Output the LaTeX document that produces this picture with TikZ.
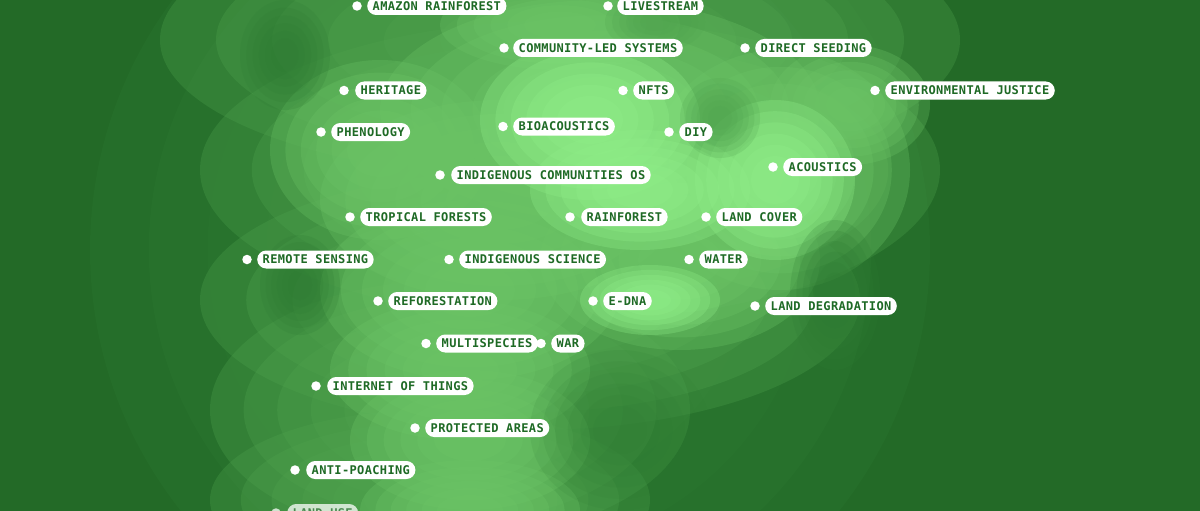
\documentclass[tikz,border=0pt]{standalone}
\usepackage{fontspec}
\newfontfamily\labelfont[LetterSpace=3]{DejaVu Sans Mono}
\definecolor{bgdark}{HTML}{236A27}
\definecolor{bgband}{HTML}{2E7B33}
\definecolor{bgmid}{HTML}{4FA34E}
\definecolor{bglight}{HTML}{6CC466}
\definecolor{bgbright}{HTML}{8FEE88}
\definecolor{labelgreen}{HTML}{1E6A25}
% soft blob: stacked translucent ellipses
\newcommand\myblob[6][0.3]{%
  \foreach \f in {1,0.86,0.72,0.58,0.44,0.3}{%
    \fill[#2, opacity=#1] (#3,#4) ellipse [x radius={#5*\f}, y radius={#6*\f}];}}
\tikzset{
  pill/.style={anchor=west, fill=white, rounded corners=9pt, inner xsep=5.5pt,
    inner ysep=4.6pt, text height=8.8pt, text depth=0pt, text=labelgreen,
    font=\labelfont\bfseries\fontsize{12}{12}\selectfont},
  dot/.style={circle, fill=white, minimum size=9.5pt, inner sep=0pt},
}
\begin{document}
\begin{tikzpicture}[x=1pt,y=-1pt]
\useasboundingbox (0,0) rectangle (1200,511);
\fill[bgdark] (0,0) rectangle (1200,511);
\begin{scope}
\clip (0,0) rectangle (1200,511);
% broad faint band
\myblob[0.25]{bgband}{510}{250}{420}{420}
% medium envelope
\myblob{bgmid}{560}{40}{400}{140}
\myblob{bgmid}{570}{170}{370}{150}
\myblob{bgmid}{530}{300}{330}{130}
\myblob{bgmid}{450}{410}{240}{130}
\myblob{bgmid}{430}{500}{220}{90}
% light areas
\myblob{bglight}{600}{110}{220}{110}
\myblob{bglight}{780}{170}{130}{120}
\myblob{bglight}{500}{200}{180}{100}
\myblob{bglight}{680}{260}{140}{90}
\myblob{bglight}{470}{290}{150}{90}
\myblob{bglight}{460}{370}{130}{70}
\myblob{bglight}{470}{440}{120}{70}
\myblob{bglight}{470}{510}{110}{50}
\myblob{bglight}{850}{105}{80}{60}
\myblob{bglight}{380}{150}{110}{90}
\myblob{bglight}{560}{25}{120}{45}
% bright spots
\myblob{bgbright}{590}{120}{110}{80}
\myblob{bgbright}{775}{180}{80}{80}
\myblob{bgbright}{640}{190}{110}{60}
\myblob{bgbright}{650}{300}{70}{35}
% darker pockets
\myblob[0.2]{bgband}{285}{55}{45}{55}
\myblob[0.2]{bgmid}{720}{118}{40}{40}
\myblob[0.2]{bgmid}{655}{22}{50}{30}
\myblob[0.2]{bgband}{835}{295}{45}{75}
\myblob[0.2]{bgband}{300}{285}{40}{50}
\myblob[0.12]{bgband}{620}{430}{90}{80}
\end{scope}

% labels
\node[dot] (d1) at (357,6) {};   \node[pill] (l1) at (367,6) {AMAZON RAINFOREST};
\node[dot] (d2) at (608,6) {};   \node[pill] (l2) at (617,6) {LIVESTREAM};
\node[dot] (d3) at (504,48) {};  \node[pill] (l3) at (513,48) {COMMUNITY-LED SYSTEMS};
\node[dot] (d4) at (745,48) {};  \node[pill] (l4) at (755,48) {DIRECT SEEDING};
\node[dot] (d5) at (344,90.5) {}; \node[pill] (l5) at (355,90.5) {HERITAGE};
\node[dot] (d6) at (623,90.5) {}; \node[pill] (l6) at (633,90.5) {NFTS};
\node[dot] (d7) at (875,90.5) {}; \node[pill] (l7) at (885,90.5) {ENVIRONMENTAL JUSTICE};
\node[dot] (d8) at (321,132) {};  \node[pill] (l8) at (331,132) {PHENOLOGY};
\node[dot] (d9) at (503,126.5) {}; \node[pill] (l9) at (513,126.5) {BIOACOUSTICS};
\node[dot] (d10) at (669,132) {}; \node[pill] (l10) at (679,132) {DIY};
\node[dot] (d11) at (773,167) {}; \node[pill] (l11) at (783,167) {ACOUSTICS};
\node[dot] (d12) at (440,175) {}; \node[pill] (l12) at (451,175) {INDIGENOUS COMMUNITIES OS};
\node[dot] (d13) at (350,217) {}; \node[pill] (l13) at (360,217) {TROPICAL FORESTS};
\node[dot] (d14) at (570,217) {}; \node[pill] (l14) at (581,217) {RAINFOREST};
\node[dot] (d15) at (706,217) {}; \node[pill] (l15) at (716,217) {LAND COVER};
\node[dot] (d16) at (247,259.5) {}; \node[pill] (l16) at (257,259.5) {REMOTE SENSING};
\node[dot] (d17) at (449,259.5) {}; \node[pill] (l17) at (459,259.5) {INDIGENOUS SCIENCE};
\node[dot] (d18) at (689,259.5) {}; \node[pill] (l18) at (699,259.5) {WATER};
\node[dot] (d19) at (378,301) {}; \node[pill] (l19) at (388,301) {REFORESTATION};
\node[dot] (d20) at (593,301) {}; \node[pill] (l20) at (603,301) {E-DNA};
\node[dot] (d21) at (755,306) {}; \node[pill] (l21) at (765,306) {LAND DEGRADATION};
\node[dot] (d22) at (426,343.5) {}; \node[pill] (l22) at (436,343.5) {MULTISPECIES};
\node[dot] (d23) at (541,343.5) {}; \node[pill] (l23) at (551,343.5) {WAR};
\node[dot] (d24) at (316,386) {}; \node[pill] (l24) at (327,386) {INTERNET OF THINGS};
\node[dot] (d25) at (415,428) {}; \node[pill] (l25) at (425,428) {PROTECTED AREAS};
\node[dot] (d26) at (295,470) {}; \node[pill] (l26) at (306,470) {ANTI-POACHING};
\begin{scope}[opacity=0.75]
\node[dot] (d27) at (276,513) {}; \node[pill] (l27) at (287,513) {LAND USE};
\end{scope}
\end{tikzpicture}
\end{document}
